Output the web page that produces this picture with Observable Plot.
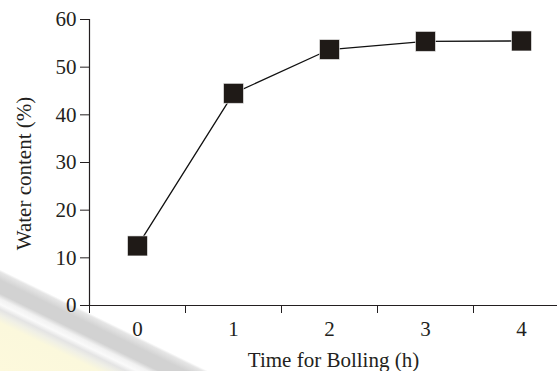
<!DOCTYPE html>
<html>
<head>
<meta charset="utf-8">
<script src="https://cdn.jsdelivr.net/npm/d3@7"></script>
<script src="https://cdn.jsdelivr.net/npm/@observablehq/plot@0.6"></script>
<style>
  html, body { margin: 0; padding: 0; background: #fff; }
  #wrap { position: relative; width: 557px; height: 371px; overflow: hidden; }
  #wm { position: absolute; left: 0; top: 250px; width: 300px; height: 121px;
        background: linear-gradient(206deg, rgba(255,255,255,0) 0%, rgba(255,255,255,0) 62%,
          #e6e6e6 63%, #d2d2d2 66%, #d2d2d2 71%, #f2f2f2 73%, #fafafa 75%, #e4e4e4 77%, #efefe6 79%,
          #fbf8dc 82%, #fdf9dc 100%); }
  #chart { position: absolute; left: 0; top: 0; }
  #chart svg, #chart svg text { font-family: 'Liberation Serif', 'Times New Roman', serif !important; font-size: 21px !important; }
</style>
</head>
<body>
<div id="wrap"><div id="wm"></div><div id="chart"></div></div>
<script>
const hours = [0, 1, 2, 3, 4];
const waterContent = [12.5, 44.5, 53.7, 55.4, 55.5];
const yTicks = [0, 10, 20, 30, 40, 50, 60];
const xTitle = "Time for Bolling (h)";
const yTitle = "Water content (%)";

const data = hours.map((h, i) => ({h, w: waterContent[i]}));
const bandEdges = hours.map(h => h - 0.5);
const ink = "#231f20";

const chart = Plot.plot({
  width: 557,
  height: 371,
  marginLeft: 89,
  marginRight: 0,
  marginTop: 19,
  marginBottom: 66,
  style: {color: ink, background: "transparent", overflow: "visible"},
  x: {domain: [-0.5, 4.375]},
  y: {domain: [0, 60]},
  marks: [
    Plot.axisY({ticks: yTicks, tickSize: 9, tickPadding: 4, tickFormat: d3.format("d"), label: null, stroke: ink, fill: ink}),
    Plot.ruleX([-0.5], {stroke: ink, strokeWidth: 1.2}),
    Plot.ruleY([0], {stroke: ink, strokeWidth: 1.2}),
    Plot.axisX({ticks: bandEdges, tickSize: 8, tickFormat: () => "", label: null, stroke: ink}),
    Plot.axisX({ticks: hours, tickSize: 0, tickPadding: 16, tickFormat: d3.format("d"), label: null, fill: ink}),
    Plot.text([xTitle], {frameAnchor: "bottom", textAnchor: "middle", dx: 10, dy: 61, fill: ink}),
    Plot.text([yTitle], {frameAnchor: "left", textAnchor: "middle", rotate: -90, dx: -65, dy: 11, fill: ink}),
    Plot.line(data, {x: "h", y: "w", stroke: "#111", strokeWidth: 1.3}),
    Plot.dot(data, {x: "h", y: "w", symbol: "square", r: 11.3, fill: "#1f1a17", stroke: "#fff", strokeWidth: 0.6})
  ]
});
document.getElementById("chart").appendChild(chart);
</script>
</body>
</html>
